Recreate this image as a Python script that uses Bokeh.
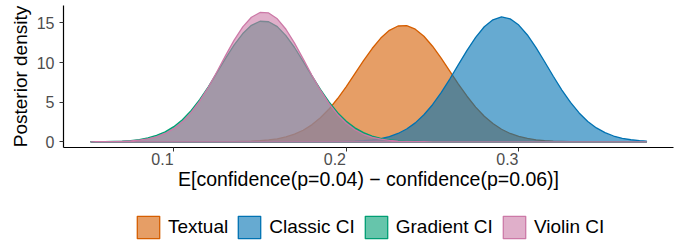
from bokeh.plotting import figure
from bokeh.layouts import column
from bokeh.models import Range1d, FixedTicker, LinearAxis, Legend, LegendItem
from bokeh.embed import file_html
from bokeh.resources import INLINE

# ---- data ----
x = [0.052, 0.055, 0.060, 0.065, 0.070, 0.075, 0.080, 0.085, 0.090, 0.095,
     0.100, 0.105, 0.110, 0.115, 0.120, 0.125, 0.130, 0.135, 0.140, 0.145,
     0.150, 0.155, 0.160, 0.165, 0.170, 0.175, 0.180, 0.185, 0.190, 0.195,
     0.200, 0.205, 0.210, 0.215, 0.220, 0.225, 0.230, 0.235, 0.240, 0.245,
     0.250, 0.255, 0.260, 0.265, 0.270, 0.275, 0.280, 0.285, 0.290, 0.295,
     0.300, 0.305, 0.310, 0.315, 0.320, 0.325, 0.330, 0.335, 0.340, 0.345,
     0.350, 0.355, 0.360, 0.365, 0.370, 0.374]

textual = [0, 0, 0, 0, 0, 0, 0, 0, 0, 0,
           0, 0, 0, 0, 0, 0, 0.01, 0.02, 0.04, 0.07,
           0.13, 0.23, 0.38, 0.62, 0.97, 1.46, 2.14, 3.03, 4.13, 5.46,
           6.97, 8.59, 10.23, 11.77, 13.09, 14.07, 14.61, 14.66, 14.21, 13.32,
           12.06, 10.55, 8.92, 7.29, 5.75, 4.38, 3.23, 2.30, 1.58, 1.05,
           0.68, 0.42, 0.25, 0.15, 0.08, 0.04, 0.02, 0.01, 0, 0,
           0, 0, 0, 0, 0, 0]

classic = [0, 0, 0, 0, 0, 0, 0, 0, 0, 0,
           0, 0, 0, 0, 0, 0, 0, 0, 0, 0,
           0, 0, 0, 0, 0, 0, 0, 0, 0.01, 0.02,
           0.04, 0.07, 0.13, 0.23, 0.40, 0.66, 1.05, 1.61, 2.39, 3.41,
           4.68, 6.20, 7.92, 9.73, 11.54, 13.18, 14.52, 15.40, 15.75, 15.51,
           14.73, 13.48, 11.89, 10.10, 8.27, 6.53, 4.97, 3.64, 2.57, 1.75,
           1.15, 0.73, 0.44, 0.26, 0.15, 0.09]

gradient = [0.01, 0.01, 0.02, 0.05, 0.09, 0.16, 0.28, 0.48, 0.80, 1.25,
            1.91, 2.79, 3.93, 5.33, 6.94, 8.71, 10.52, 12.22, 13.66, 14.70,
            15.21, 15.15, 14.53, 13.40, 11.90, 10.16, 8.35, 6.61, 5.03, 3.68,
            2.60, 1.76, 1.15, 0.72, 0.44, 0.25, 0.14, 0.08, 0.04, 0.02,
            0.01, 0, 0, 0, 0, 0, 0, 0, 0, 0,
            0, 0, 0, 0, 0, 0, 0, 0, 0, 0,
            0, 0, 0, 0, 0, 0]

violin = [0, 0.01, 0.01, 0.03, 0.06, 0.11, 0.20, 0.37, 0.63, 1.05,
          1.66, 2.52, 3.68, 5.14, 6.88, 8.84, 10.88, 12.83, 14.50, 15.71,
          16.32, 16.26, 15.52, 14.20, 12.45, 10.47, 8.43, 6.51, 4.82, 3.42,
          2.33, 1.52, 0.95, 0.57, 0.33, 0.18, 0.09, 0.05, 0.02, 0.01,
          0, 0, 0, 0, 0, 0, 0, 0, 0, 0,
          0, 0, 0, 0, 0, 0, 0, 0, 0, 0,
          0, 0, 0, 0, 0, 0]

series_names = ["Textual", "Classic CI", "Gradient CI", "Violin CI"]
series_values = [textual, classic, gradient, violin]
colors = ["#D55E00", "#0072B2", "#009E73", "#CC79A7"]
x_ticks = [0.1, 0.2, 0.3]
y_ticks = [0, 5, 10, 15]
x_title = "E[confidence(p=0.04) \u2212 confidence(p=0.06)]"
y_title = "Posterior density"

FONT = "Liberation Sans"
x0, x1 = 0.03606, 0.3897
label_shift = 0.0066

p = figure(frame_width=610, frame_height=142,
           x_range=Range1d(x0, x1), y_range=Range1d(-0.72, 17.2),
           output_backend="svg", toolbar_location=None,
           min_border_left=63, min_border_top=5, min_border_right=5,
           min_border_bottom=0)
p.outline_line_color = None
p.xgrid.grid_line_color = None
p.ygrid.grid_line_color = None
p.background_fill_color = "white"

for vals, col in zip(series_values, colors):
    xs = list(x) + list(reversed(x))
    ys = list(vals) + [0] * len(x)
    p.patch(xs, ys, fill_color=col, fill_alpha=0.6,
            line_color=col, line_width=1.3, line_join="round")

# y axis
ya = p.yaxis[0]
ya.ticker = FixedTicker(ticks=y_ticks)
ya.axis_line_color = "black"
ya.axis_line_width = 1.2
ya.major_tick_out = 4
ya.major_tick_in = 0
ya.major_tick_line_color = "#333333"
ya.minor_tick_line_color = None
ya.major_label_text_font = FONT
ya.major_label_text_font_size = "16px"
ya.major_label_text_color = "#4D4D4D"
ya.major_label_standoff = 5
ya.axis_label = y_title
ya.axis_label_text_font = FONT
ya.axis_label_text_font_size = "19px"
ya.axis_label_text_font_style = "normal"
ya.axis_label_text_color = "black"
ya.axis_label_standoff = 3

# x axis: line + tick marks
xa = p.xaxis[0]
xa.ticker = FixedTicker(ticks=x_ticks)
xa.axis_line_color = "black"
xa.axis_line_width = 1.2
xa.major_tick_out = 4
xa.major_tick_in = 0
xa.major_tick_line_color = "#333333"
xa.minor_tick_line_color = None
xa.major_label_text_color = None
xa.major_label_text_font_size = "0px"
xa.major_label_standoff = 0

# x axis: tick labels (they end at the tick, as in the reference) + title
p.extra_x_ranges = {"lab": Range1d(x0 + label_shift, x1 + label_shift)}
xb = LinearAxis(x_range_name="lab", ticker=FixedTicker(ticks=x_ticks))
xb.axis_line_color = None
xb.major_tick_line_color = None
xb.minor_tick_line_color = None
xb.major_tick_out = 0
xb.major_tick_in = 0
xb.major_label_text_font = FONT
xb.major_label_text_font_size = "16px"
xb.major_label_text_color = "#4D4D4D"
xb.major_label_standoff = 1
xb.axis_label = x_title
xb.axis_label_text_font = FONT
xb.axis_label_text_font_size = "19.5px"
xb.axis_label_text_font_style = "normal"
xb.axis_label_text_color = "black"
xb.axis_label_standoff = 0
p.add_layout(xb, "below")

# legend strip below the chart (its renderers use the same data, out of view)
p2 = figure(frame_width=610, frame_height=49,
            x_range=Range1d(5, 6), y_range=Range1d(100, 101),
            output_backend="svg", toolbar_location=None,
            x_axis_location=None, y_axis_location=None,
            min_border_left=63, min_border_top=0, min_border_right=5,
            min_border_bottom=0)
p2.outline_line_color = None
p2.xgrid.grid_line_color = None
p2.ygrid.grid_line_color = None

items = []
for name, vals, col in zip(series_names, series_values, colors):
    xs = list(x) + list(reversed(x))
    ys = list(vals) + [0] * len(x)
    r = p2.patch(xs, ys, fill_color=col, fill_alpha=0.6,
                 line_color=col, line_width=1.3)
    items.append(LegendItem(label=name, renderers=[r]))

legend = Legend(items=items, orientation="horizontal", location=(71, 0),
                label_text_font=FONT, label_text_font_size="19px",
                label_text_color="black",
                glyph_width=28, glyph_height=28, label_standoff=6,
                label_height=28, spacing=7, padding=0, margin=0,
                border_line_color=None, background_fill_alpha=0)
p2.add_layout(legend, "center")

open("out.html", "w").write(file_html(column(p, p2), INLINE))
